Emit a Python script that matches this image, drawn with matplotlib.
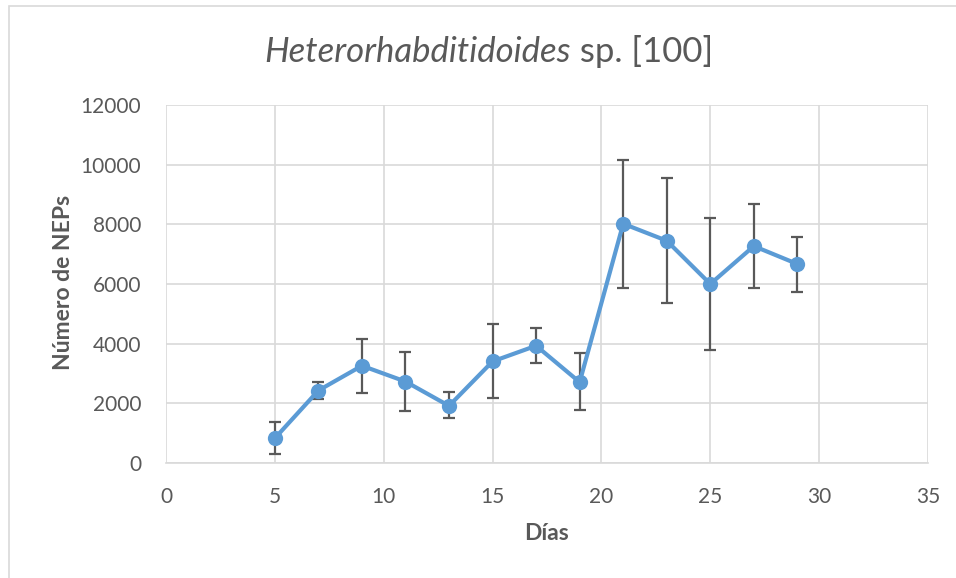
import matplotlib
matplotlib.use("Agg")
import matplotlib.pyplot as plt
from matplotlib.patches import Rectangle

dias = [5, 7, 9, 11, 13, 15, 17, 19, 21, 23, 25, 27, 29]
neps = [830, 2430, 3260, 2730, 1915, 3405, 3930, 2710, 8020, 7450, 6000, 7270, 6670]
err_low = [540, 300, 920, 980, 395, 1230, 580, 950, 2140, 2090, 2220, 1390, 930]
err_high = [560, 290, 910, 990, 475, 1255, 585, 980, 2130, 2100, 2220, 1420, 920]
xticks = [0, 5, 10, 15, 20, 25, 30, 35]
yticks = [0, 2000, 4000, 6000, 8000, 10000, 12000]

plt.rcParams['font.family'] = ['Lato', 'DejaVu Sans']

W, H = 956, 578
fig = plt.figure(figsize=(W / 100, H / 100), dpi=100)
ax = fig.add_axes([166 / W, 1 - 463 / H, (928 - 166) / W, (463 - 105) / H])

grid_c = '#d9d9d9'
text_c = '#595959'

ax.errorbar(dias, neps, yerr=[err_low, err_high], fmt='none', ecolor='#595959',
            elinewidth=1.6, capsize=4, capthick=1.6, zorder=2)
ax.plot(dias, neps, color='#5B9BD5', linewidth=3, marker='o', markersize=11,
        markeredgewidth=0, zorder=3)

ax.set_xlim(0, 35)
ax.set_ylim(0, 12000)
ax.set_xticks(xticks)
ax.set_yticks(yticks)
ax.grid(True, color=grid_c, linewidth=1.2, zorder=0)
ax.set_axisbelow(True)
for s in ['top', 'right', 'left']:
    ax.spines[s].set_visible(False)
ax.spines['bottom'].set_color(grid_c)
ax.spines['bottom'].set_linewidth(1.2)
ax.tick_params(axis='both', length=0, labelsize=15, labelcolor=text_c)
ax.tick_params(axis='x', pad=17)
ax.tick_params(axis='y', pad=18)

fig.text(547 / W, 1 - 533 / H, 'Días', fontsize=16.5, fontweight='bold',
         color=text_c, ha='center', va='center')
fig.text(63.5 / W, 1 - 282 / H, 'Número de NEPs', fontsize=16.5, fontweight='bold',
         color=text_c, ha='center', va='center', rotation=90)

# Title: italic genus + roman remainder, centred as a whole
t1 = fig.text(0, 1 - 52 / H, 'Heterorhabditidoides', fontsize=25, style='italic',
              color=text_c, ha='left', va='center')
t2 = fig.text(0, 1 - 52 / H, ' sp. [100]', fontsize=25, color=text_c,
              ha='left', va='center')
fig.canvas.draw()
r = fig.canvas.get_renderer()
w1 = t1.get_window_extent(r).width
w2 = t2.get_window_extent(r).width
x0 = 489 - (w1 + w2) / 2
t1.set_x(x0 / W)
t2.set_x((x0 + w1) / W)

fig.patches.append(Rectangle((9 / W, -0.01), 1.0, 1 - 6 / H + 0.01,
                             transform=fig.transFigure, fill=False,
                             edgecolor='#d9d9d9', linewidth=1.2))

fig.savefig('out.png', dpi=100)
